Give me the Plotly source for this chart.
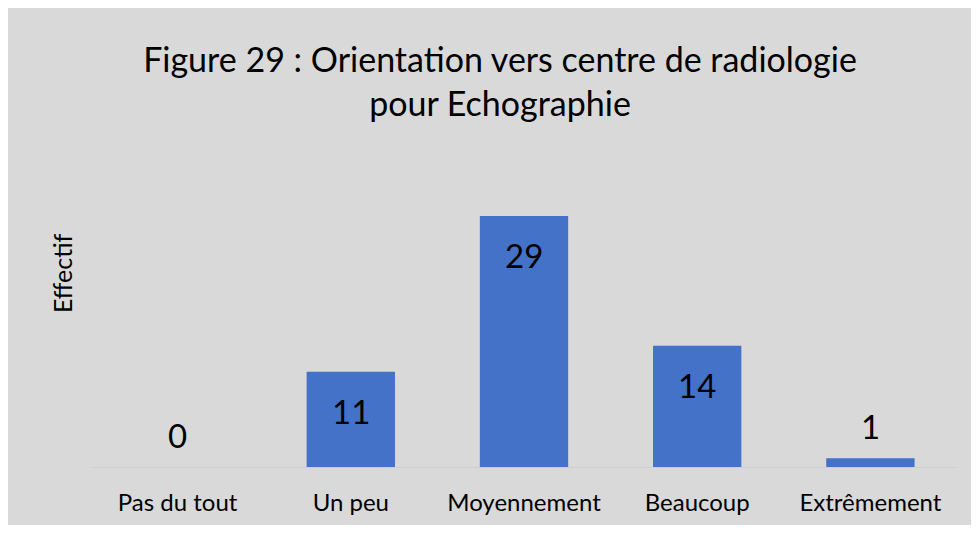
import plotly.graph_objects as go

categories = ["Pas du tout", "Un peu", "Moyennement", "Beaucoup", "Extrêmement"]
values = [0, 11, 29, 14, 1]
title_text = "Figure 29 : Orientation vers centre de radiologie<br>pour Echographie"
y_title = "Effectif"

FONT = "Lato"
BG = "#d9d9d9"

fig = go.Figure()
fig.add_trace(go.Bar(
    x=categories, y=values,
    marker=dict(color="#4472c8", line=dict(width=0)),
    hoverinfo="x+y",
))

annotations = []
for c, v in zip(categories, values):
    inside = v >= 5
    annotations.append(dict(
        x=c, y=v, xref="x", yref="y",
        text=str(v), showarrow=False,
        yanchor="middle", xanchor="center",
        yshift=-39 if inside else 32,
        font=dict(family=FONT, size=33, color="black"),
    ))
annotations.append(dict(
    x=0, y=0.70, xref="paper", yref="paper",
    text=y_title, showarrow=False, textangle=-90,
    xanchor="center", yanchor="middle", xshift=-29,
    font=dict(family=FONT, size=25, color="black"),
))

fig.update_layout(
    width=971, height=517,
    paper_bgcolor=BG, plot_bgcolor=BG,
    margin=dict(l=83, r=22, t=182, b=58, pad=0),
    title=dict(text=title_text, x=492 / 971, xanchor="center",
               y=1 - 64 / 517, yanchor="middle", yref="container",
               font=dict(family=FONT, size=34, color="black")),
    bargap=0.49,
    showlegend=False,
    annotations=annotations,
    xaxis=dict(showgrid=False, zeroline=False, showline=True, linecolor="#cfcfcf",
               linewidth=1, ticks="", ticklabelstandoff=14, automargin=False,
               tickfont=dict(family=FONT, size=24, color="black")),
    yaxis=dict(range=[0, 32], showgrid=False, zeroline=False, showticklabels=False,
               showline=False, ticks="", automargin=False),
)
fig.update_layout(title_xref="container")

fig.write_html("out.html")
